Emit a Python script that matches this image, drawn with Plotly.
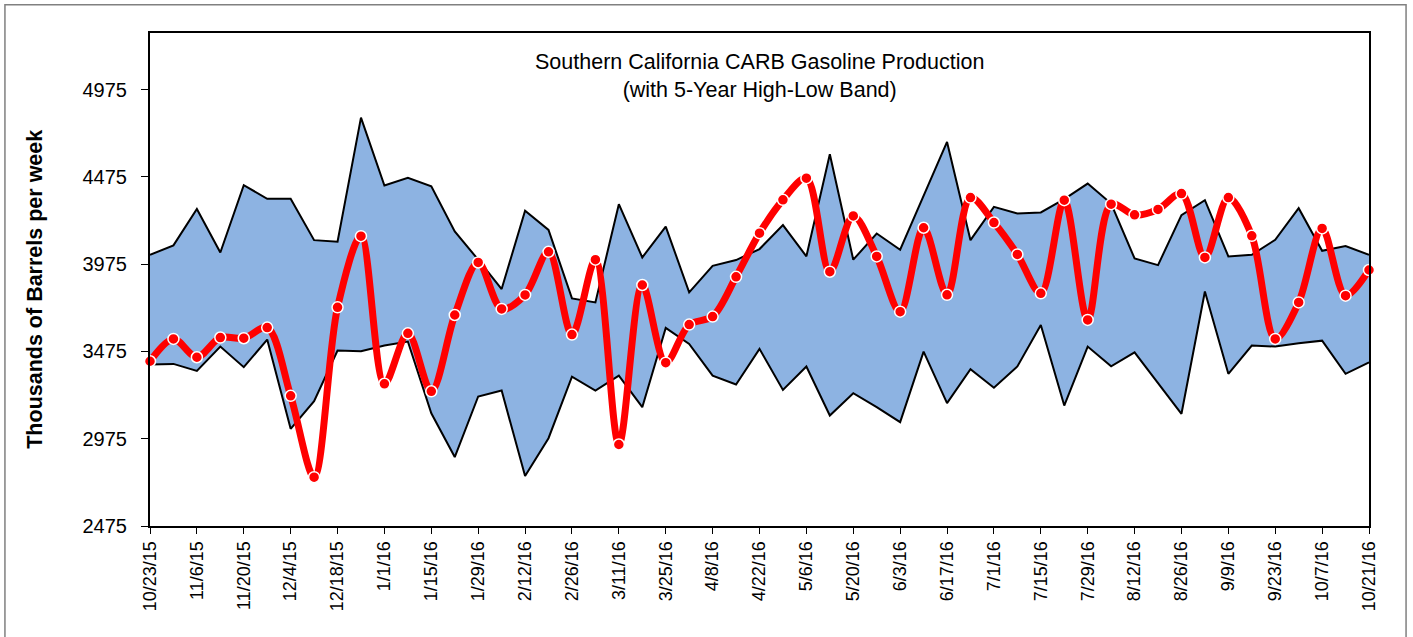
import pandas as pd
import plotly.graph_objects as go

# weekly dates, 10/23/15 .. 10/21/16
weeks = pd.date_range("2015-10-23", "2016-10-21", freq="7D")
week_labels = [f"{d.month}/{d.day}/{d.year % 100}" for d in weeks]

# 5-year band (thousand barrels per week)
band_high = [4029, 4083, 4292, 4042, 4428, 4350, 4350, 4113, 4104, 4815,
             4426, 4470, 4422, 4163, 4001, 3833, 4281, 4172, 3779, 3756,
             4319, 4014, 4191, 3814, 3966, 3999, 4062, 4199, 4020, 4605,
             4001, 4151, 4058, 4367, 4676, 4113, 4304, 4266, 4272, 4348,
             4437, 4323, 4008, 3970, 4256, 4342, 4020, 4029, 4115, 4296,
             4052, 4079, 4029]
band_low = [3400, 3404, 3364, 3503, 3385, 3543, 3032, 3190, 3480, 3476,
            3509, 3532, 3121, 2870, 3217, 3251, 2761, 2978, 3331, 3251,
            3337, 3156, 3610, 3518, 3337, 3286, 3490, 3255, 3389, 3108,
            3236, 3156, 3070, 3474, 3179, 3373, 3267, 3389, 3627, 3165,
            3503, 3390, 3470, 3293, 3118, 3819, 3347, 3509, 3503, 3522,
            3537, 3347, 3413]
production = [3419, 3547, 3442, 3555, 3551, 3612, 3221, 2755, 3728, 4136,
              3290, 3579, 3247, 3684, 3985, 3719, 3799, 4046, 3572, 4001,
              2942, 3856, 3411, 3629, 3675, 3903, 4153, 4344, 4468, 3932,
              4252, 4020, 3703, 4184, 3800, 4357, 4214, 4031, 3808, 4342,
              3656, 4319, 4258, 4289, 4380, 4014, 4357, 4138, 3547, 3756,
              4180, 3795, 3942]

y_ticks = [2475, 2975, 3475, 3975, 4475, 4975]

fig = go.Figure()

fig.add_trace(go.Scatter(
    x=week_labels, y=band_low, mode="lines",
    line=dict(color="black", width=2), showlegend=False, hoverinfo="skip"
))
fig.add_trace(go.Scatter(
    x=week_labels, y=band_high, mode="lines", fill="tonexty",
    fillcolor="#8DB3E2", line=dict(color="black", width=2),
    showlegend=False, hoverinfo="skip"
))
fig.add_trace(go.Scatter(
    x=week_labels, y=production, mode="lines+markers",
    line=dict(color="#FF0000", width=7, shape="spline", smoothing=0.9),
    marker=dict(size=11, color="#FF0000", line=dict(color="white", width=1.5)),
    showlegend=False, cliponaxis=False
))

font = "Liberation Sans, Arial, sans-serif"

fig.update_layout(
    width=1413, height=637,
    margin=dict(l=150, r=44, t=33, b=111),
    paper_bgcolor="white", plot_bgcolor="white",
    font=dict(family=font, color="black"),
    xaxis=dict(
        type="category", range=[0, len(week_labels) - 1],
        tickvals=week_labels[::2], ticktext=week_labels[::2],
        tickangle=-90, tickfont=dict(size=18),
        showgrid=False, zeroline=False,
        showline=True, linecolor="black", linewidth=2, mirror=True,
        ticks="outside", ticklen=6, tickcolor="black", tickwidth=1,
    ),
    yaxis=dict(
        range=[2475, 5300], tickvals=y_ticks,
        tickfont=dict(size=20), ticklabelstandoff=10,
        showgrid=False, zeroline=False,
        showline=True, linecolor="black", linewidth=2, mirror=True,
        ticks="outside", ticklen=7, tickcolor="black", tickwidth=1,
    ),
    annotations=[
        dict(text="Southern California CARB Gasoline Production<br>(with 5-Year High-Low Band)",
             xref="paper", yref="paper", x=0.5, y=0.97, xanchor="center", yanchor="top",
             showarrow=False, font=dict(size=21.5)),
        dict(text="<b>Thousands of Barrels per week</b>",
             xref="paper", yref="paper", x=-0.094, y=0.48, textangle=-90,
             xanchor="center", yanchor="middle", showarrow=False, font=dict(size=21.5)),
    ],
    shapes=[
        dict(type="rect", xref="paper", yref="paper",
             x0=-0.119, x1=1.0304, y0=-0.24, y1=1.0574,
             line=dict(color="#808080", width=1.5), layer="below"),
    ],
)

# drop the browser's default body margin so the figure fills the window
fig.write_html("out.html", config={"displayModeBar": False},
               post_script="document.body.style.margin='0';document.body.style.overflow='hidden';")
